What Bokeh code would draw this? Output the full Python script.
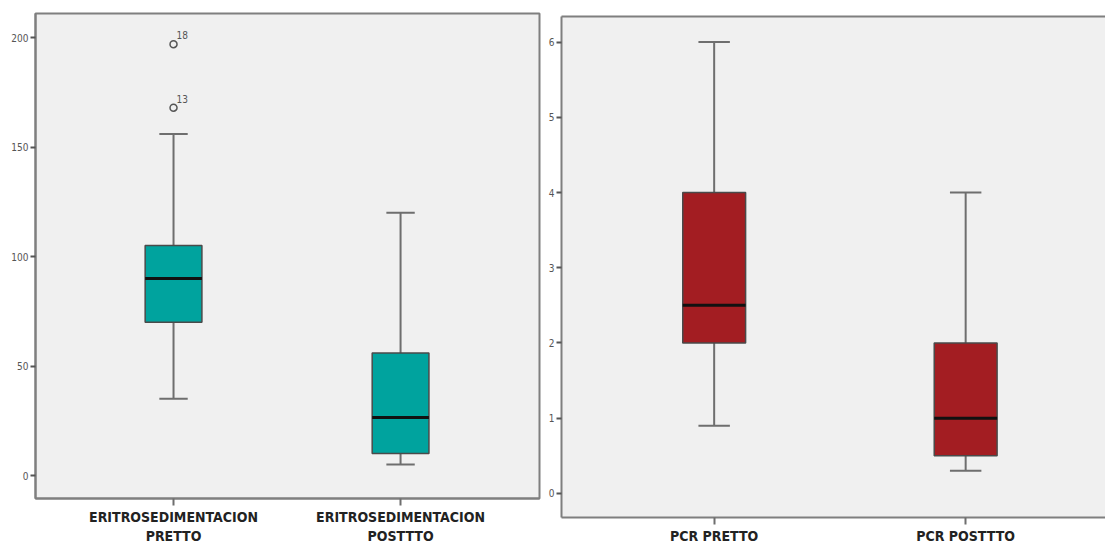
from bokeh.plotting import figure
from bokeh.layouts import row, column
from bokeh.models import Range1d, FixedTicker, ColumnDataSource, LinearAxis
from bokeh.core.properties import value
from bokeh.embed import file_html
from bokeh.resources import INLINE

# ---------------- data ----------------
eri_categories = ["ERITROSEDIMENTACION\nPRETTO", "ERITROSEDIMENTACION\nPOSTTTO"]
eri_lo = [35, 5]
eri_q1 = [70, 10]
eri_med = [90, 26.5]
eri_q3 = [105, 56]
eri_hi = [156, 120]
eri_out_cat = [0, 0]
eri_out_val = [168, 197]
eri_out_lab = ["13", "18"]
eri_ticks = [0, 50, 100, 150, 200]

pcr_categories = ["PCR PRETTO", "PCR POSTTTO"]
pcr_lo = [0.9, 0.3]
pcr_q1 = [2.0, 0.5]
pcr_med = [2.5, 1.0]
pcr_q3 = [4.0, 2.0]
pcr_hi = [6.0, 4.0]
pcr_ticks = [0, 1, 2, 3, 4, 5, 6]

BG = "#f0f0f0"
FRAME = "#7f7f7f"
TICKFONT = "DejaVu Sans Condensed"
BOX_W = 0.25
CAP_W = 0.125


def make_panel(cats, lo, q1, med, q3, hi, yticks, color, xr, yr, width, height,
               mb_left, mb_right, mb_top, mb_bottom):
    p = figure(width=width, height=height, output_backend="svg", toolbar_location=None,
               x_range=Range1d(*xr), y_range=Range1d(*yr),
               min_border_left=mb_left, min_border_right=mb_right,
               min_border_top=mb_top, min_border_bottom=mb_bottom)
    p.background_fill_color = BG
    p.border_fill_color = "white"
    p.outline_line_color = FRAME
    p.outline_line_width = 2
    p.xgrid.visible = False
    p.ygrid.visible = False

    xs = [i + 1 for i in range(len(cats))]
    src = ColumnDataSource(dict(
        x=xs, lo=lo, q1=q1, med=med, q3=q3, hi=hi,
        cl=[x - CAP_W / 2 for x in xs], cr=[x + CAP_W / 2 for x in xs],
        bl=[x - BOX_W / 2 for x in xs], br=[x + BOX_W / 2 for x in xs],
    ))
    # whiskers
    p.segment(x0="x", y0="q3", x1="x", y1="hi", source=src, line_color="#6e6e6e", line_width=2)
    p.segment(x0="x", y0="q1", x1="x", y1="lo", source=src, line_color="#6e6e6e", line_width=2)
    p.segment(x0="cl", y0="hi", x1="cr", y1="hi", source=src, line_color="#6e6e6e", line_width=2)
    p.segment(x0="cl", y0="lo", x1="cr", y1="lo", source=src, line_color="#6e6e6e", line_width=2)
    # boxes
    p.vbar(x="x", width=BOX_W, bottom="q1", top="q3", source=src,
           fill_color=color, line_color="#4a4a4a", line_width=1.5)
    # medians
    p.segment(x0="bl", y0="med", x1="br", y1="med", source=src, line_color="#111111", line_width=3)

    # axes
    p.xaxis.ticker = FixedTicker(ticks=xs)
    p.xaxis.major_label_overrides = {x: c for x, c in zip(xs, cats)}
    p.xaxis.major_label_text_font = TICKFONT
    p.xaxis.major_label_text_font_style = "bold"
    p.xaxis.major_label_text_font_size = "14px"
    p.xaxis.major_label_text_color = "#222222"
    p.xaxis.major_label_standoff = 3
    p.xaxis.major_tick_in = 0
    p.xaxis.major_tick_out = 7
    p.xaxis.minor_tick_line_color = None
    p.xaxis.axis_line_color = FRAME
    p.xaxis.axis_line_width = 2
    p.xaxis.major_tick_line_color = "#6e6e6e"
    p.xaxis.major_tick_line_width = 2

    p.yaxis.ticker = FixedTicker(ticks=yticks)
    p.yaxis.major_label_text_font = TICKFONT
    p.yaxis.major_label_text_font_size = "10px"
    p.yaxis.major_label_text_color = "#555555"
    p.yaxis.major_label_standoff = 2
    p.yaxis.major_tick_in = 0
    p.yaxis.major_tick_out = 5
    p.yaxis.minor_tick_line_color = None
    p.yaxis.axis_line_color = FRAME
    p.yaxis.axis_line_width = 2
    p.yaxis.major_tick_line_color = "#555555"
    p.yaxis.major_tick_line_width = 2
    return p


p1 = make_panel(eri_categories, eri_lo, eri_q1, eri_med, eri_q3, eri_hi, eri_ticks,
                "#00a39e", (0.392, 2.612), (-10.5, 211), 545, 551, 35, 6, 13, 53)

osrc = ColumnDataSource(dict(x=[c + 1 for c in eri_out_cat], y=eri_out_val, t=eri_out_lab))
p1.scatter(x="x", y="y", source=osrc, marker="circle", size=7, fill_color=None,
           line_color="#555555", line_width=1.5)
p1.text(x="x", y="y", text="t", source=osrc, x_offset=3, y_offset=-5,
        text_font=value(TICKFONT), text_font_size="10px", text_color="#555555",
        text_baseline="bottom", text_align="left")

p2 = make_panel(pcr_categories, pcr_lo, pcr_q1, pcr_med, pcr_q3, pcr_hi, pcr_ticks,
                "#a31d22", (0.393, 2.556), (-0.32, 6.34), 560, 551, 15, 0, 16, 34)
# the right panel continues past the window edge: no right-hand frame line
p2.outline_line_color = None
top_axis = LinearAxis(ticker=FixedTicker(ticks=[]), axis_line_color=FRAME, axis_line_width=2,
                      major_label_text_font_size="0px", major_tick_line_color=None,
                      minor_tick_line_color=None)
p2.add_layout(top_axis, "above")

layout = row(column(p1), column(p2), spacing=0)
open("out.html", "w").write(file_html(layout, INLINE))
